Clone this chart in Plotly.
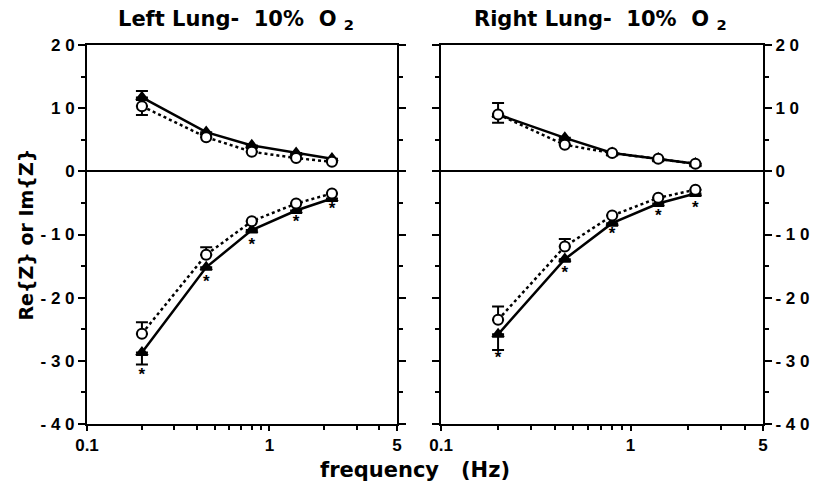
import numpy as np
import plotly.graph_objects as go

freq = [0.2, 0.45, 0.8, 1.4, 2.2]

# Left lung
L_im_tri = [11.7, 6.2, 4.1, 2.9, 2.0]
L_im_cir = [10.3, 5.4, 3.1, 2.1, 1.5]
L_re_tri = [-28.7, -15.2, -9.3, -6.2, -4.3]
L_re_cir = [-25.7, -13.2, -7.9, -5.1, -3.5]
L_im_tri_err = [1.0, None, None, None, None]   # upper
L_im_cir_err = [1.4, None, None, None, None]   # lower
L_re_tri_err = [1.9, None, None, None, None]   # lower
L_re_cir_err = [1.8, 1.2, None, None, None]    # upper
L_star = [-32.4, -17.6, -11.8, -8.2, -6.1]

# Right lung
R_im_tri = [9.0, 5.3, 2.9, 2.0, 1.2]
R_im_cir = [9.0, 4.2, 2.9, 2.0, 1.2]
R_re_tri = [-25.8, -13.9, -8.2, -5.1, -3.5]
R_re_cir = [-23.5, -11.9, -7.0, -4.2, -2.9]
R_im_tri_err = [1.8, None, None, None, None]
R_im_cir_err = [1.3, None, None, None, None]
R_re_tri_err = [2.5, None, None, None, None]
R_re_cir_err = [2.1, 1.2, None, None, None]
R_star = [-29.7, -16.2, -10.1, -7.2, -5.9]

y_tickvals = [-40, -30, -20, -10, 0, 10, 20]
y_ticktext = ["- 4 0", "- 3 0", "- 2 0", "- 1 0", "0", "1 0", "2 0"]
x_tickvals = [0.1, 1, 5]
x_ticktext = ["0.1", "1", "5"]
x_minor = [0.2, 0.3, 0.4, 0.5, 0.6, 0.7, 0.8, 0.9, 2, 3, 4]


def nz(a):
    return [np.nan if v is None else v for v in a]


def zeros_where(a):
    return [np.nan if v is None else 0 for v in a]


fig = go.Figure()


def add_series(xa, ya, yvals, err, upper, symbol, dash, fill):
    e = nz(err)
    z = zeros_where(err)
    fig.add_trace(go.Scatter(
        x=freq, y=yvals, xaxis=xa, yaxis=ya, mode="lines+markers",
        line=dict(color="black", width=2.5, dash=dash),
        marker=dict(symbol=symbol, size=10, color=fill,
                    line=dict(color="black", width=2)),
        error_y=dict(type="data", symmetric=False,
                     array=e if upper else z,
                     arrayminus=z if upper else e,
                     color="black", thickness=2, width=6),
        showlegend=False, hoverinfo="skip"))


for xa, ya, d in [("x", "y", dict(it=L_im_tri, ic=L_im_cir, rt=L_re_tri, rc=L_re_cir,
                                   ite=L_im_tri_err, ice=L_im_cir_err, rte=L_re_tri_err,
                                   rce=L_re_cir_err, st=L_star)),
                  ("x2", "y2", dict(it=R_im_tri, ic=R_im_cir, rt=R_re_tri, rc=R_re_cir,
                                     ite=R_im_tri_err, ice=R_im_cir_err, rte=R_re_tri_err,
                                     rce=R_re_cir_err, st=R_star))]:
    add_series(xa, ya, d["it"], d["ite"], True, "triangle-up", "solid", "black")
    add_series(xa, ya, d["rt"], d["rte"], False, "triangle-up", "solid", "black")
    add_series(xa, ya, d["ic"], d["ice"], False, "circle", "dot", "white")
    add_series(xa, ya, d["rc"], d["rce"], True, "circle", "dot", "white")
    fig.add_trace(go.Scatter(
        x=freq, y=d["st"], xaxis=xa, yaxis=ya, mode="text", text=["*"] * 5,
        textposition="middle center",
        textfont=dict(family="Liberation Sans", size=17, color="black", weight="bold"),
        showlegend=False, hoverinfo="skip"))

tickfont = dict(family="Liberation Sans", size=17, color="black", weight="bold")

xcommon = dict(type="log", range=[-1, np.log10(5)], showline=True, linewidth=2,
               linecolor="black", mirror=True, ticks="outside", tickvals=x_tickvals,
               ticktext=x_ticktext, ticklen=5, tickwidth=2, tickcolor="black",
               showgrid=False, zeroline=False, tickfont=tickfont,
               minor=dict(tickvals=x_minor, ticks="outside", ticklen=4, tickwidth=1.5,
                          tickcolor="black", showgrid=False))
ycommon = dict(range=[-40, 20], showline=True, linewidth=2, linecolor="black",
               mirror="ticks", ticks="outside", tickvals=y_tickvals, ticktext=y_ticktext,
               ticklen=7, tickwidth=2, tickcolor="black", showgrid=False,
               zeroline=True, zerolinecolor="black", zerolinewidth=1.5,
               tickfont=tickfont,
               minor=dict(dtick=5, tick0=5, ticks="outside", ticklen=4, tickwidth=1.5,
                          tickcolor="black", showgrid=False))

fig.update_layout(
    width=822, height=491,
    margin=dict(l=87, r=59, t=45, b=67),
    plot_bgcolor="white", paper_bgcolor="white",
    xaxis=dict(domain=[0, 0.4586], anchor="y", **xcommon),
    xaxis2=dict(domain=[0.5237, 1], anchor="y2", **xcommon),
    yaxis=dict(domain=[0, 1], anchor="x", side="left", **ycommon),
    yaxis2=dict(domain=[0, 1], anchor="x2", side="right", **ycommon),
)

lab = dict(family="DejaVu Sans", size=21, color="black", weight="bold")
tit = dict(family="DejaVu Sans", size=21, color="black", weight="bold")
fig.add_annotation(text="Left Lung-  10%  O <sub>2</sub>", xref="paper", yref="paper",
                   x=0.2204, y=1.066, showarrow=False, font=tit, xanchor="center",
                   yanchor="middle")
fig.add_annotation(text="Right Lung-  10%  O <sub>2</sub>", xref="paper", yref="paper",
                   x=0.7589, y=1.066, showarrow=False, font=tit, xanchor="center",
                   yanchor="middle")
fig.add_annotation(text="Re{Z} or Im{Z}", xref="paper", yref="paper",
                   x=-0.0917, y=0.5, textangle=-90, showarrow=False,
                   font=dict(family="DejaVu Sans", size=19, color="black", weight="bold"),
                   xanchor="center", yanchor="middle")
fig.add_annotation(text="frequency   (Hz)", xref="paper", yref="paper",
                   x=0.485, y=-0.121, showarrow=False, font=lab,
                   xanchor="center", yanchor="middle")

fig.write_html("out.html", config={"displayModeBar": False},
               post_script="document.body.style.margin='0';")
